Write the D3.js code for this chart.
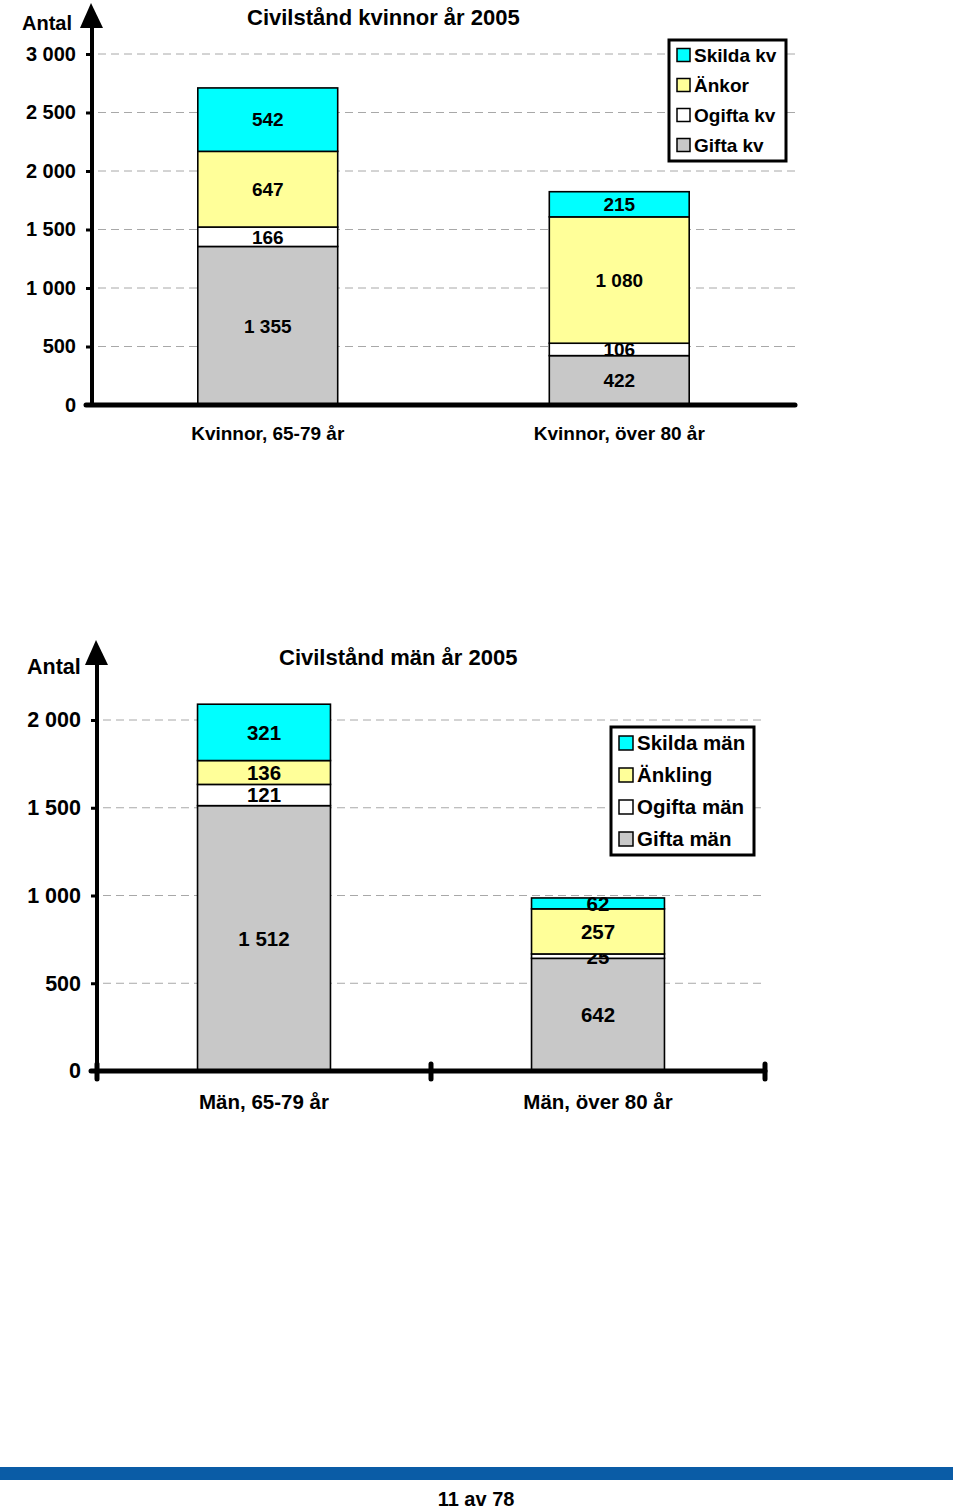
<!DOCTYPE html>
<html><head><meta charset="utf-8">
<script src="https://cdn.jsdelivr.net/npm/d3@7"></script>
<style>
html,body{margin:0;padding:0;background:#fff;}
svg{display:block;font-family:"Liberation Sans",Arial,Helvetica,sans-serif;font-weight:bold;}
</style></head>
<body>
<svg id="chart" width="960" height="1512"></svg>
<script>
// ---------- DATA ----------
const womenCategories = ["Kvinnor, 65-79 år", "Kvinnor, över 80 år"];
const womenSeriesNames = ["Gifta kv", "Ogifta kv", "Änkor", "Skilda kv"];
const womenGifta  = [1355, 422];
const womenOgifta = [166, 106];
const womenAnkor  = [647, 1080];
const womenSkilda = [542, 215];
const womenTicks  = [0, 500, 1000, 1500, 2000, 2500, 3000];

const menCategories = ["Män, 65-79 år", "Män, över 80 år"];
const menSeriesNames = ["Gifta män", "Ogifta män", "Änkling", "Skilda män"];
const menGifta  = [1512, 642];
const menOgifta = [121, 25];
const menAnkling = [136, 257];
const menSkilda = [321, 62];
const menTicks  = [0, 500, 1000, 1500, 2000];

const seriesColors = ["#c8c8c8", "#ffffff", "#ffff99", "#00ffff"];
const pageLabel = "11 av 78";

const fmt = d3.formatLocale({decimal: ",", thousands: " ", grouping: [3], currency: ["", ""]}).format(",d");
const svg = d3.select("#chart");

function drawChart(cfg) {
  const g = svg.append("g");
  const y = d3.scaleLinear().domain([0, cfg.ticks[cfg.ticks.length - 1]]).range([cfg.y0, cfg.yTop]);
  const x = d3.scaleBand().domain(cfg.categories).range([cfg.x0, cfg.x1]).paddingInner(0.602).paddingOuter(0.301);

  // gridlines
  g.append("g").selectAll("line").data(cfg.ticks.filter(t => t > 0)).join("line")
    .attr("x1", cfg.x0 + 6).attr("x2", cfg.x1)
    .attr("y1", d => y(d)).attr("y2", d => y(d))
    .attr("stroke", "#a8a8a8").attr("stroke-width", 1).attr("stroke-dasharray", "8,5");

  // stacked data
  const rows = cfg.categories.map((c, i) => {
    const o = {cat: c};
    cfg.seriesNames.forEach((s, j) => o[s] = cfg.values[j][i]);
    return o;
  });
  const stack = d3.stack().keys(cfg.seriesNames)(rows);

  const layers = g.append("g").selectAll("g").data(stack).join("g")
    .attr("fill", (d, i) => seriesColors[i]);
  layers.selectAll("rect").data(d => d).join("rect")
    .attr("x", d => x(d.data.cat)).attr("width", x.bandwidth())
    .attr("y", d => y(d[1])).attr("height", d => y(d[0]) - y(d[1]))
    .attr("stroke", "#000").attr("stroke-width", 1.6);

  layers.selectAll("text").data(d => d).join("text")
    .attr("x", d => x(d.data.cat) + x.bandwidth() / 2)
    .attr("y", d => (y(d[0]) + y(d[1])) / 2)
    .attr("dy", "0.36em").attr("text-anchor", "middle")
    .attr("fill", "#000").attr("font-size", cfg.labelSize)
    .text(d => fmt(d[1] - d[0]));

  // y axis
  const ya = g.append("g").attr("transform", `translate(${cfg.x0},0)`)
    .call(d3.axisLeft(y).tickValues(cfg.ticks).tickFormat(fmt).tickSize(6).tickPadding(10));
  ya.select(".domain").remove();
  ya.selectAll(".tick line").attr("stroke", "#000").attr("stroke-width", 3);
  ya.selectAll(".tick text").attr("font-size", cfg.tickSize).attr("font-family", "Liberation Sans, Arial, sans-serif")
    .attr("font-weight", "bold").attr("fill", "#000");

  // vertical axis line + arrow
  g.append("line").attr("x1", cfg.x0).attr("x2", cfg.x0).attr("y1", cfg.y0).attr("y2", cfg.arrowTip + 20)
    .attr("stroke", "#000").attr("stroke-width", 4);
  g.append("path")
    .attr("d", `M${cfg.x0 - 1},${cfg.arrowTip} L${cfg.x0 + 11},${cfg.arrowTip + 25} L${cfg.x0 - 12},${cfg.arrowTip + 25} Z`)
    .attr("fill", "#000");

  // baseline
  g.append("line").attr("x1", cfg.x0 - 6).attr("x2", cfg.x1).attr("y1", cfg.y0).attr("y2", cfg.y0)
    .attr("stroke", "#000").attr("stroke-width", 5).attr("stroke-linecap", "round");

  if (cfg.catTicks) {
    const bounds = [cfg.x0, cfg.x0 + x.step(), cfg.x1];
    g.append("g").selectAll("line").data(bounds).join("line")
      .attr("x1", d => d).attr("x2", d => d).attr("y1", cfg.y0 - 7).attr("y2", cfg.y0 + 8)
      .attr("stroke", "#000").attr("stroke-width", 5).attr("stroke-linecap", "round");
  }

  // category labels
  g.append("g").selectAll("text").data(cfg.categories).join("text")
    .attr("x", d => x(d) + x.bandwidth() / 2).attr("y", cfg.catY)
    .attr("text-anchor", "middle").attr("font-size", cfg.catSize).text(d => d);

  // Antal + title
  g.append("text").attr("x", cfg.antalX).attr("y", cfg.antalY).attr("font-size", cfg.antalSize).text("Antal");
  g.append("text").attr("x", cfg.titleX).attr("y", cfg.titleY).attr("font-size", 22).text(cfg.title);

  // legend
  const lg = g.append("g");
  lg.append("rect").attr("x", cfg.leg.x).attr("y", cfg.leg.y).attr("width", cfg.leg.w).attr("height", cfg.leg.h)
    .attr("fill", "#fff").attr("stroke", "#000").attr("stroke-width", 3);
  const items = cfg.seriesNames.map((s, i) => ({s, i})).reverse();
  const it = lg.selectAll("g.item").data(items).join("g")
    .attr("transform", (d, k) => `translate(${cfg.leg.x + 8},${cfg.leg.y + cfg.leg.first + k * cfg.leg.step})`);
  it.append("rect").attr("x", 0).attr("y", -cfg.leg.sw / 2).attr("width", cfg.leg.sw).attr("height", cfg.leg.sw)
    .attr("fill", d => seriesColors[d.i]).attr("stroke", "#000").attr("stroke-width", 1.5);
  it.append("text").attr("x", cfg.leg.sw + 4).attr("dy", "0.36em").attr("font-size", cfg.leg.fs).text(d => d.s);
}

drawChart({
  categories: womenCategories, seriesNames: womenSeriesNames,
  values: [womenGifta, womenOgifta, womenAnkor, womenSkilda], ticks: womenTicks,
  x0: 92, x1: 795, y0: 405, yTop: 54, arrowTip: 3,
  labelSize: 19, tickSize: 20, catSize: 19, catY: 440,
  antalX: 22, antalY: 30, antalSize: 20,
  title: "Civilstånd kvinnor år 2005", titleX: 247, titleY: 25,
  leg: {x: 669, y: 40, w: 117, h: 121, first: 15, step: 30, sw: 13, fs: 19},
  catTicks: false
});

drawChart({
  categories: menCategories, seriesNames: menSeriesNames,
  values: [menGifta, menOgifta, menAnkling, menSkilda], ticks: menTicks,
  x0: 97, x1: 765, y0: 1071, yTop: 720, arrowTip: 640,
  labelSize: 20.5, tickSize: 21.5, catSize: 20.5, catY: 1109,
  antalX: 27, antalY: 674, antalSize: 21.5,
  title: "Civilstånd män år 2005", titleX: 279, titleY: 665,
  leg: {x: 611, y: 727, w: 143, h: 128, first: 16, step: 32, sw: 14, fs: 20.5},
  catTicks: true
});

// footer
svg.append("rect").attr("x", 0).attr("y", 1467).attr("width", 953).attr("height", 13).attr("fill", "#0a5ca6");
svg.append("text").attr("x", 476).attr("y", 1506).attr("text-anchor", "middle")
  .attr("font-size", 20)
  .text(pageLabel);
</script>
</body></html>
